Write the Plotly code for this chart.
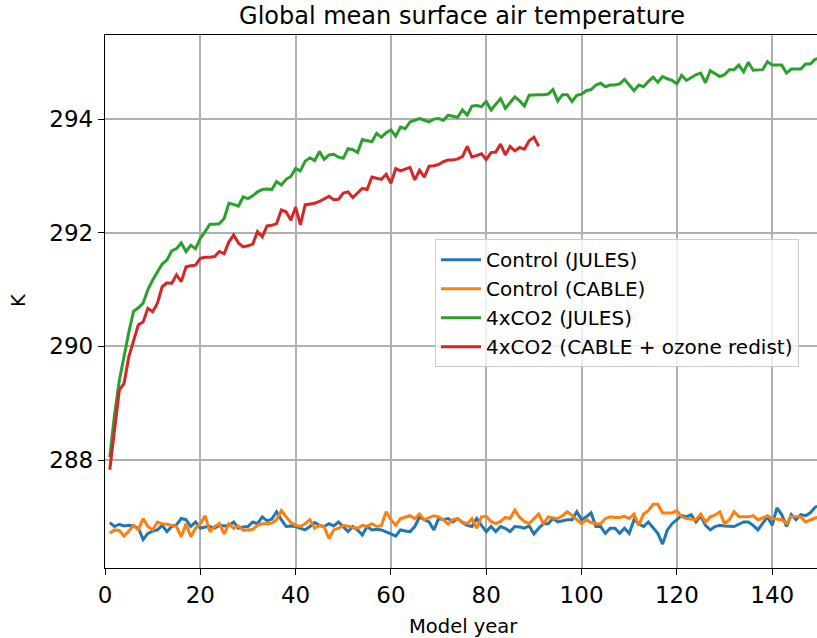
import plotly.graph_objects as go

years_ctrl = list(range(1, 151))
years_jules_4x = list(range(1, 151))
years_cable_4x = list(range(1, 92))

control_jules = [
    286.90, 286.83, 286.87, 286.84, 286.85, 286.84, 286.80, 286.60, 286.71, 286.75,
    286.77, 286.85, 286.74, 286.83, 286.86, 286.97, 286.95, 286.83, 286.91, 286.80,
    286.82, 286.83, 286.80, 286.85, 286.84, 286.85, 286.91, 286.80, 286.82, 286.83,
    286.91, 286.88, 287.00, 286.93, 286.96, 287.09, 286.95, 286.83, 286.84, 286.83,
    286.80, 286.77, 286.83, 286.90, 286.85, 286.83, 286.88, 286.84, 286.91, 286.83,
    286.74, 286.83, 286.77, 286.68, 286.83, 286.77, 286.78, 286.77, 286.74, 286.70,
    286.66, 286.77, 286.75, 286.74, 286.83, 287.00, 286.95, 286.91, 286.77, 286.97,
    286.95, 286.97, 286.91, 286.97, 286.90, 286.85, 286.83, 286.97, 286.85, 286.74,
    286.83, 286.74, 286.83, 286.80, 286.74, 286.83, 286.82, 286.80, 286.84, 286.70,
    286.80, 286.88, 286.88, 286.97, 286.91, 286.93, 286.95, 286.95, 287.09, 286.95,
    287.00, 287.07, 286.83, 286.83, 286.71, 286.80, 286.80, 286.71, 286.80, 286.71,
    286.95, 286.88, 286.83, 286.91, 286.80, 286.71, 286.52, 286.77, 286.88, 286.95,
    287.02, 287.00, 287.04, 286.91, 287.02, 286.85, 286.77, 286.83, 286.85, 286.84,
    286.83, 286.83, 286.87, 286.91, 286.91, 286.85, 286.77, 286.88, 287.00, 286.85,
    287.16, 287.04, 286.83, 287.04, 286.95, 287.04, 287.02, 287.07, 287.17, 287.20,
]

control_cable = [
    286.71, 286.77, 286.76, 286.66, 286.75, 286.85, 286.77, 286.97, 286.83, 286.77,
    286.91, 286.88, 286.87, 286.85, 286.83, 286.65, 286.88, 286.65, 286.80, 286.88,
    287.02, 286.74, 286.83, 286.88, 286.70, 286.88, 286.80, 286.84, 286.76, 286.77,
    286.78, 286.85, 286.88, 286.88, 286.89, 286.95, 287.11, 287.00, 286.90, 286.85,
    286.83, 286.88, 286.95, 286.80, 286.85, 286.82, 286.62, 286.77, 286.80, 286.85,
    286.83, 286.82, 286.80, 286.85, 286.83, 286.88, 286.83, 286.85, 287.09, 286.95,
    286.85, 286.97, 286.99, 287.02, 286.97, 287.05, 286.95, 286.98, 287.02, 287.00,
    286.95, 286.87, 286.95, 286.97, 286.91, 286.88, 286.97, 286.80, 287.00, 287.01,
    286.92, 286.88, 286.92, 286.99, 286.97, 287.12, 286.99, 286.92, 286.88, 286.97,
    287.05, 286.88, 287.00, 286.98, 286.97, 287.02, 287.09, 287.02, 286.95, 286.88,
    286.95, 286.90, 286.88, 286.88, 286.97, 287.00, 286.99, 286.99, 287.01, 286.97,
    287.05, 286.85, 287.05, 287.11, 287.22, 287.22, 287.07, 287.07, 287.07, 287.11,
    287.00, 286.97, 286.96, 286.95, 287.05, 286.91, 287.00, 287.03, 287.09, 286.88,
    286.95, 287.09, 287.00, 287.00, 287.00, 287.02, 286.95, 286.98, 287.02, 286.97,
    286.96, 286.95, 286.88, 287.01, 287.00, 287.00, 286.91, 286.95, 286.98, 287.00,
]

co2x4_jules = [
    288.05, 288.80, 289.40, 289.85, 290.25, 290.62, 290.68, 290.76, 291.00, 291.17,
    291.32, 291.45, 291.52, 291.68, 291.72, 291.82, 291.67, 291.78, 291.72, 291.90,
    292.02, 292.15, 292.15, 292.16, 292.25, 292.52, 292.50, 292.47, 292.63, 292.60,
    292.65, 292.72, 292.76, 292.77, 292.76, 292.90, 292.84, 292.94, 292.99, 293.13,
    293.09, 293.26, 293.32, 293.27, 293.43, 293.29, 293.37, 293.38, 293.33, 293.31,
    293.48, 293.46, 293.41, 293.64, 293.62, 293.60, 293.75, 293.68, 293.76, 293.81,
    293.70, 293.86, 293.83, 293.95, 293.98, 294.01, 293.98, 293.95, 294.00, 294.01,
    293.98, 294.07, 294.05, 294.03, 294.16, 294.07, 294.23, 294.24, 294.22, 294.31,
    294.16, 294.26, 294.36, 294.19, 294.30, 294.39, 294.32, 294.23, 294.42, 294.43,
    294.43, 294.43, 294.44, 294.52, 294.32, 294.43, 294.43, 294.31, 294.42, 294.44,
    294.50, 294.52, 294.60, 294.63, 294.57, 294.60, 294.60, 294.62, 294.70, 294.60,
    294.50, 294.60, 294.57, 294.66, 294.74, 294.65, 294.75, 294.71, 294.68, 294.62,
    294.77, 294.68, 294.73, 294.78, 294.81, 294.64, 294.85, 294.80, 294.75, 294.78,
    294.87, 294.87, 294.95, 294.83, 295.00, 294.86, 294.87, 294.87, 295.01, 294.95,
    294.95, 294.95, 294.81, 294.88, 294.88, 294.88, 294.97, 294.97, 295.05, 295.08,
]

co2x4_cable = [
    287.83, 288.55, 289.23, 289.35, 289.82, 290.10, 290.38, 290.43, 290.67, 290.61,
    290.76, 291.05, 291.12, 291.11, 291.26, 291.14, 291.40, 291.42, 291.43, 291.55,
    291.57, 291.57, 291.58, 291.67, 291.63, 291.84, 291.96, 291.82, 291.75, 291.77,
    291.80, 292.02, 291.93, 292.12, 292.13, 292.16, 292.40, 292.37, 292.22, 292.45,
    292.14, 292.49, 292.50, 292.52, 292.55, 292.60, 292.64, 292.58, 292.59, 292.70,
    292.72, 292.62, 292.70, 292.78, 292.76, 292.98, 292.96, 292.94, 293.03, 292.87,
    293.13, 293.09, 293.12, 293.15, 292.93, 293.10, 292.98, 293.17, 293.18, 293.20,
    293.25, 293.28, 293.28, 293.30, 293.34, 293.52, 293.33, 293.36, 293.39, 293.29,
    293.41, 293.42, 293.56, 293.37, 293.52, 293.44, 293.50, 293.47, 293.62, 293.68,
    293.52,
]

x_ticks = [0, 20, 40, 60, 80, 100, 120, 140]
y_ticks = [288, 290, 292, 294]

series = [
    ("Control (JULES)", years_ctrl, control_jules, "#1f77b4"),
    ("Control (CABLE)", years_ctrl, control_cable, "#ff7f0e"),
    ("4xCO2 (JULES)", years_jules_4x, co2x4_jules, "#2ca02c"),
    ("4xCO2 (CABLE + ozone redist)", years_cable_4x, co2x4_cable, "#d62728"),
]

fig = go.Figure()
for name, xs, ys, col in series:
    fig.add_trace(go.Scatter(x=xs, y=ys, mode="lines", name=name,
                             line=dict(color=col, width=3)))

axis_common = dict(
    showline=True, linecolor="black", linewidth=1.4, mirror=True,
    ticks="outside", ticklen=6, tickwidth=1.4, tickcolor="black",
    showgrid=True, gridcolor="#b0b0b0", gridwidth=1.5,
    zeroline=False, tickfont=dict(size=23, color="black"),
    automargin=False,
)

# the plot runs a little past the right edge of the window, as in the reference
W, H = 823, 638
L, T, B = 105, 35, 70
plot_w = W - L
px_per_year = 712 / 149.4
x_max = plot_w / px_per_year

fig.update_layout(
    width=W, height=H,
    margin=dict(l=L, r=0, t=T, b=B),
    paper_bgcolor="white", plot_bgcolor="white",
    font=dict(family="DejaVu Sans", color="black"),
    title=dict(text="Global mean surface air temperature", x=462 / W, xanchor="center",
               xref="container", yref="container",
               y=1 - 16 / H, yanchor="middle", font=dict(size=24)),
    xaxis=dict(range=[0, x_max], tickvals=x_ticks, **axis_common),
    yaxis=dict(range=[286.1, 295.48], tickvals=y_ticks, **axis_common),
    legend=dict(x=(435 - 105) / plot_w, y=0.617, xanchor="left", yanchor="top",
                bgcolor="rgba(255,255,255,0.8)", bordercolor="#cccccc", borderwidth=1,
                font=dict(size=20), tracegroupgap=0, itemwidth=40),
    showlegend=True,
    annotations=[
        dict(text="Model year", xref="paper", yref="paper", x=(463 - 105) / plot_w,
             y=(568 - 626) / 533, xanchor="center", yanchor="middle",
             showarrow=False, font=dict(size=19.5)),
        dict(text="K", xref="paper", yref="paper", x=(18 - 105) / plot_w,
             y=(568 - 300) / 533, xanchor="center", yanchor="middle",
             showarrow=False, textangle=-90, font=dict(size=19.5)),
    ],
)

fig.write_html(
    "out.html",
    config={"displayModeBar": False},
    post_script=(
        "document.body.style.margin='0';"
        "document.body.style.overflow='hidden';"
        "document.documentElement.style.overflow='hidden';"
    ),
)
